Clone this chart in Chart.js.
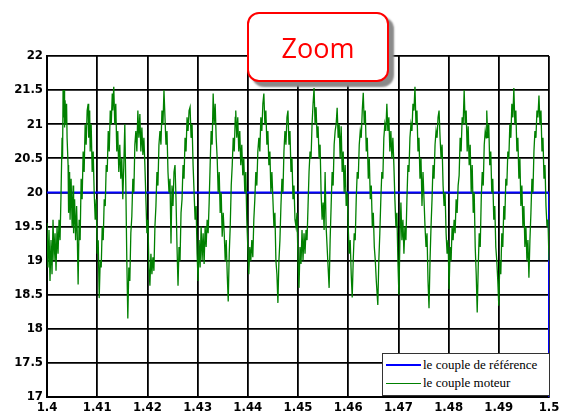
<!DOCTYPE html>
<html>
<head>
<meta charset="utf-8">
<script src="https://cdn.jsdelivr.net/npm/chart.js"></script>
<style>
  html, body { margin: 0; padding: 0; background: #fff; }
  #wrap { position: relative; width: 573px; height: 416px; }
  #zoomTag {
    position: absolute; left: 247px; top: 12px; width: 138px; height: 66px;
    border: 2px solid #ff0000; border-radius: 12px; background: #fff;
    box-shadow: 5px 5px 2px #8a8a8a;
    font-family: "Open Sans", sans-serif; font-size: 27px; color: #ff0000;
    display: flex; align-items: center; justify-content: center;
  }
  #legend {
    position: absolute; left: 382px; top: 353px; width: 166px; height: 41px;
    border: 1px solid #333; background: #fff;
    font-family: "Liberation Serif", serif; font-size: 13px; color: #000;
  }
  #legend .row { position: absolute; left: 3px; height: 16px; display: flex; align-items: center; }
  #legend .swatch { width: 35px; height: 0; margin-right: 2px; }
</style>
</head>
<body>
<div id="wrap">
  <canvas id="chart" width="573" height="416"></canvas>
  <div id="zoomTag">Zoom</div>
  <div id="legend"></div>
</div>
<script>
// axis ticks
const xTickValues = [1.4, 1.41, 1.42, 1.43, 1.44, 1.45, 1.46, 1.47, 1.48, 1.49, 1.5];
const yTickValues = [17, 17.5, 18, 18.5, 19, 19.5, 20, 20.5, 21, 21.5, 22];

const seriesNames = ['le couple de référence', 'le couple moteur'];
const seriesColors = ['#0000ff', '#008000'];

// reference torque: constant 20, switched off at t = 1.5
const refTorque = [[1.4, 20], [1.5, 20], [1.5, 17]];

// measured motor torque [t, Nm]
const motorTorque = [
  [1.4000,19.55],[1.4002,18.9],[1.4004,19.45],[1.4006,18.7],[1.4008,19.3],[1.4010,18.8],[1.4012,19.6],[1.4014,19.0],
  [1.4016,19.4],[1.4018,18.85],[1.4020,19.5],[1.4022,19.1],[1.4024,19.6],[1.4026,19.3],[1.4028,20.0],[1.4030,20.8],
  [1.4031,20.5],[1.4032,21.5],[1.4033,21.1],[1.4034,21.5],[1.4035,20.95],[1.4036,21.35],[1.4038,21.0],[1.4039,21.3],
  [1.4040,20.8],[1.4042,20.4],[1.4043,19.7],[1.4045,20.3],[1.4046,19.6],[1.4048,20.2],[1.4050,19.5],[1.4052,20.1],
  [1.4053,19.4],[1.4055,19.9],[1.4057,19.3],[1.4059,19.8],[1.4060,19.5],[1.4062,18.65],[1.4064,19.6],[1.4066,19.3],
  [1.4068,20.2],[1.4070,19.9],[1.4072,20.6],[1.4074,20.3],[1.4076,21.0],[1.4078,20.7],[1.4080,21.2],[1.4082,21.3],
  [1.4083,20.8],[1.4085,21.2],[1.4086,20.6],[1.4088,21.0],[1.4090,20.3],[1.4092,20.6],[1.4094,20.0],[1.4096,19.6],
  [1.4098,19.9],[1.4100,19.1],[1.4102,19.3],[1.4104,18.45],[1.4106,19.0],[1.4108,18.9],[1.4110,19.5],[1.4112,19.3],
  [1.4114,19.9],[1.4116,19.8],[1.4118,20.4],[1.4120,20.3],[1.4122,20.9],[1.4124,20.6],[1.4126,21.2],[1.4128,21.0],
  [1.4130,21.45],[1.4131,21.2],[1.4133,21.55],[1.4135,21.0],[1.4137,21.3],[1.4139,20.6],[1.4141,20.9],[1.4143,20.3],
  [1.4145,20.7],[1.4147,20.2],[1.4149,20.5],[1.4151,19.9],[1.4153,20.4],[1.4155,21.0],[1.4157,20.1],[1.4159,19.0],
  [1.4161,18.15],[1.4163,18.9],[1.4165,18.7],[1.4167,19.4],[1.4169,19.65],[1.4171,20.2],[1.4173,20.0],[1.4175,20.7],
  [1.4177,20.9],[1.4179,20.6],[1.4181,21.2],[1.4183,20.8],[1.4185,21.15],[1.4187,20.6],[1.4189,20.95],[1.4191,20.55],
  [1.4193,20.8],[1.4195,20.4],[1.4197,19.9],[1.4199,19.4],[1.4201,19.6],[1.4203,18.9],[1.4205,18.63],[1.4207,19.1],
  [1.4209,18.8],[1.4211,19.05],[1.4213,18.85],[1.4215,19.5],[1.4217,19.8],[1.4219,20.3],[1.4221,20.1],[1.4223,20.7],
  [1.4225,20.9],[1.4227,20.7],[1.4229,21.2],[1.4231,21.0],[1.4233,21.5],[1.4235,21.1],[1.4237,20.7],[1.4239,20.9],
  [1.4241,20.3],[1.4243,20.0],[1.4245,20.2],[1.4247,19.25],[1.4249,20.1],[1.4251,19.8],[1.4253,20.3],[1.4255,20.4],
  [1.4257,19.9],[1.4259,19.2],[1.4261,18.63],[1.4263,19.2],[1.4265,19.0],[1.4267,19.7],[1.4269,19.9],[1.4271,20.4],
  [1.4273,20.2],[1.4275,20.8],[1.4277,20.6],[1.4279,21.1],[1.4281,20.9],[1.4283,21.2],[1.4285,21.25],[1.4287,20.8],
  [1.4289,21.0],[1.4291,20.4],[1.4293,20.0],[1.4295,19.6],[1.4297,19.8],[1.4299,19.1],[1.4301,18.7],[1.4303,19.3],
  [1.4305,18.9],[1.4307,19.5],[1.4309,19.0],[1.4311,19.4],[1.4313,18.95],[1.4315,19.5],[1.4317,19.2],[1.4319,19.6],
  [1.4321,19.4],[1.4323,19.85],[1.4325,20.4],[1.4327,20.9],[1.4329,20.7],[1.4331,21.45],[1.4333,21.0],[1.4335,21.3],
  [1.4337,20.8],[1.4339,20.5],[1.4341,20.0],[1.4343,20.3],[1.4345,19.7],[1.4347,20.0],[1.4349,19.35],[1.4351,19.7],
  [1.4353,19.4],[1.4355,19.0],[1.4357,19.3],[1.4359,18.8],[1.4361,18.4],[1.4363,19.1],[1.4365,19.5],[1.4367,20.1],
  [1.4369,20.4],[1.4371,20.8],[1.4373,20.6],[1.4375,21.1],[1.4376,21.2],[1.4378,20.8],[1.4380,21.1],[1.4382,20.6],
  [1.4384,20.9],[1.4386,20.4],[1.4388,20.7],[1.4390,20.25],[1.4392,20.5],[1.4394,20.0],[1.4396,20.3],[1.4398,19.6],
  [1.4400,19.2],[1.4402,18.8],[1.4404,19.2],[1.4406,19.0],[1.4408,19.3],[1.4410,19.05],[1.4412,19.6],[1.4414,19.9],
  [1.4416,20.3],[1.4418,20.1],[1.4420,20.6],[1.4422,20.8],[1.4424,20.6],[1.4426,21.1],[1.4428,20.9],[1.4430,21.3],
  [1.4432,21.45],[1.4434,21.0],[1.4436,21.2],[1.4438,20.7],[1.4440,20.9],[1.4442,20.4],[1.4444,20.6],[1.4446,20.0],
  [1.4448,20.3],[1.4450,19.9],[1.4452,19.5],[1.4454,19.7],[1.4456,19.0],[1.4458,18.8],[1.4460,18.38],[1.4462,19.0],
  [1.4464,19.3],[1.4466,19.8],[1.4468,20.2],[1.4470,20.0],[1.4472,20.6],[1.4474,20.9],[1.4476,20.7],[1.4478,21.1],
  [1.4480,21.2],[1.4482,20.7],[1.4484,20.9],[1.4486,20.3],[1.4488,20.5],[1.4490,19.9],[1.4492,20.1],[1.4494,19.6],
  [1.4496,19.5],[1.4498,19.7],[1.4500,19.0],[1.4502,18.6],[1.4504,19.2],[1.4506,18.95],[1.4508,19.45],[1.4510,19.0],
  [1.4512,19.4],[1.4514,19.1],[1.4516,19.45],[1.4518,19.3],[1.4520,19.8],[1.4522,20.3],[1.4524,20.6],[1.4526,20.5],
  [1.4528,21.0],[1.4530,21.3],[1.4532,21.53],[1.4534,21.0],[1.4536,21.25],[1.4538,20.8],[1.4540,20.97],[1.4542,20.5],
  [1.4544,20.7],[1.4546,20.0],[1.4548,19.6],[1.4550,19.85],[1.4552,19.45],[1.4554,20.3],[1.4556,19.5],[1.4558,19.2],
  [1.4560,18.9],[1.4562,18.6],[1.4564,19.3],[1.4566,19.8],[1.4568,20.3],[1.4570,20.1],[1.4572,20.7],[1.4574,20.9],
  [1.4576,21.0],[1.4578,21.24],[1.4580,20.8],[1.4582,21.0],[1.4584,20.5],[1.4586,20.97],[1.4588,20.3],[1.4590,20.6],
  [1.4592,20.0],[1.4594,20.4],[1.4596,19.8],[1.4598,20.0],[1.4600,19.5],[1.4602,19.1],[1.4604,19.3],[1.4606,18.8],
  [1.4608,18.46],[1.4610,19.0],[1.4612,19.4],[1.4614,19.3],[1.4616,19.9],[1.4618,20.3],[1.4620,20.2],[1.4622,20.7],
  [1.4624,20.9],[1.4626,20.8],[1.4628,21.2],[1.4630,21.46],[1.4632,21.0],[1.4634,21.2],[1.4636,20.6],[1.4638,20.8],
  [1.4640,20.2],[1.4642,20.5],[1.4644,19.9],[1.4646,20.1],[1.4648,19.5],[1.4650,19.7],[1.4652,19.2],[1.4654,19.0],
  [1.4656,18.7],[1.4659,18.35],[1.4661,19.0],[1.4663,19.4],[1.4665,19.9],[1.4667,20.3],[1.4669,20.2],[1.4671,20.8],
  [1.4673,21.0],[1.4675,20.9],[1.4677,21.3],[1.4679,20.9],[1.4681,21.1],[1.4683,20.6],[1.4685,20.9],[1.4687,20.5],
  [1.4689,20.8],[1.4691,20.4],[1.4693,19.9],[1.4695,19.5],[1.4697,19.7],[1.4699,19.0],[1.4701,18.5],[1.4703,19.3],
  [1.4705,19.85],[1.4707,19.3],[1.4709,19.6],[1.4711,19.1],[1.4713,19.5],[1.4715,19.3],[1.4717,19.9],[1.4719,20.4],
  [1.4721,20.3],[1.4723,20.8],[1.4725,21.0],[1.4727,20.9],[1.4729,21.3],[1.4731,21.2],[1.4733,21.55],[1.4735,21.0],
  [1.4737,21.2],[1.4739,20.6],[1.4741,20.8],[1.4743,20.2],[1.4745,20.5],[1.4747,19.8],[1.4749,20.3],[1.4751,19.9],
  [1.4753,19.5],[1.4755,19.2],[1.4757,19.4],[1.4759,18.7],[1.4761,18.3],[1.4763,19.0],[1.4765,19.5],[1.4767,19.9],
  [1.4769,20.4],[1.4771,20.2],[1.4773,20.7],[1.4775,20.9],[1.4777,20.8],[1.4779,21.1],[1.4781,21.2],[1.4783,20.8],
  [1.4785,20.5],[1.4787,20.7],[1.4789,20.1],[1.4791,19.8],[1.4793,20.0],[1.4795,19.4],[1.4797,19.1],[1.4799,19.3],
  [1.4801,18.58],[1.4803,19.2],[1.4805,19.0],[1.4807,19.5],[1.4809,19.3],[1.4811,19.6],[1.4813,19.4],[1.4815,19.9],
  [1.4817,19.7],[1.4819,20.1],[1.4821,20.25],[1.4823,20.8],[1.4825,20.6],[1.4827,21.1],[1.4829,21.0],[1.4831,21.5],
  [1.4833,21.0],[1.4835,21.2],[1.4837,20.6],[1.4839,20.97],[1.4841,20.4],[1.4843,20.7],[1.4845,20.0],[1.4847,20.4],
  [1.4849,19.7],[1.4851,20.0],[1.4853,19.2],[1.4855,18.8],[1.4857,18.24],[1.4859,18.9],[1.4861,19.4],[1.4863,19.2],
  [1.4865,19.9],[1.4867,20.3],[1.4869,20.1],[1.4871,20.7],[1.4873,20.9],[1.4875,20.8],[1.4876,21.2],[1.4878,20.8],
  [1.4880,21.0],[1.4882,20.4],[1.4884,20.6],[1.4886,20.0],[1.4888,20.2],[1.4890,19.6],[1.4892,19.8],[1.4894,19.2],
  [1.4896,19.0],[1.4898,18.7],[1.4900,18.34],[1.4902,19.0],[1.4904,18.8],[1.4906,19.4],[1.4908,19.2],[1.4910,19.8],
  [1.4912,19.6],[1.4914,20.2],[1.4916,20.1],[1.4918,20.6],[1.4920,20.5],[1.4922,21.0],[1.4924,20.8],[1.4926,21.3],
  [1.4928,21.1],[1.4930,21.53],[1.4932,21.0],[1.4934,21.2],[1.4936,20.6],[1.4938,20.8],[1.4940,20.2],[1.4942,20.5],
  [1.4944,19.8],[1.4946,20.1],[1.4948,19.5],[1.4950,19.8],[1.4952,19.2],[1.4954,19.5],[1.4956,19.0],[1.4958,19.3],
  [1.4960,18.75],[1.4962,19.3],[1.4964,19.7],[1.4966,20.2],[1.4968,20.0],[1.4970,20.6],[1.4972,20.9],[1.4974,20.8],
  [1.4976,21.2],[1.4978,21.1],[1.4980,21.42],[1.4982,21.0],[1.4984,21.2],[1.4986,20.6],[1.4988,20.8],[1.4990,20.2],
  [1.4992,20.4],[1.4994,19.8],[1.4996,19.5],[1.4998,19.6],[1.5000,19.0]
];

const toXY = arr => arr.map(p => ({ x: p[0], y: p[1] }));
const tickFont = { family: '"DejaVu Sans Condensed", "DejaVu Sans", sans-serif', size: 13, weight: 'bold' };

new Chart(document.getElementById('chart'), {
  type: 'line',
  data: {
    datasets: [
      {
        label: seriesNames[0],
        data: toXY(refTorque),
        borderColor: seriesColors[0],
        borderWidth: 2,
        pointRadius: 0,
        tension: 0,
        order: 2
      },
      {
        label: seriesNames[1],
        data: toXY(motorTorque),
        borderColor: seriesColors[1],
        borderWidth: 1.3,
        pointRadius: 0,
        tension: 0,
        order: 1
      }
    ]
  },
  options: {
    responsive: false,
    animation: false,
    layout: { padding: { top: 56, right: 24, left: 0, bottom: 0 } },
    plugins: { legend: { display: false }, tooltip: { enabled: false } },
    scales: {
      x: {
        type: 'linear',
        min: 1.4,
        max: 1.5,
        afterBuildTicks: s => { s.ticks = xTickValues.map(v => ({ value: v })); },
        afterFit: s => { s.height = 19; },
        ticks: {
          color: '#000',
          font: tickFont,
          padding: 3,
          maxRotation: 0,
          autoSkip: false,
          callback: v => String(+v.toFixed(2))
        },
        grid: { color: '#000', lineWidth: 1.8, drawTicks: false },
        border: { color: '#000', width: 2 }
      },
      y: {
        min: 17,
        max: 22,
        afterBuildTicks: s => { s.ticks = yTickValues.map(v => ({ value: v })); },
        afterFit: s => { s.width = 47; },
        ticks: {
          color: '#000',
          font: tickFont,
          padding: 4,
          autoSkip: false,
          callback: v => String(+v.toFixed(1))
        },
        grid: { color: '#000', lineWidth: 1.8, drawTicks: false },
        border: { color: '#000', width: 2 }
      }
    }
  }
});

// legend box inside the plot, bottom right
const legend = document.getElementById('legend');
seriesNames.forEach((name, i) => {
  const row = document.createElement('div');
  row.className = 'row';
  row.style.top = (3 + i * 18) + 'px';
  row.innerHTML = '<span class="swatch" style="border-top:' + (i === 0 ? 2 : 1.2) + 'px solid ' +
    seriesColors[i] + '"></span><span>' + name + '</span>';
  legend.appendChild(row);
});
</script>
</body>
</html>
